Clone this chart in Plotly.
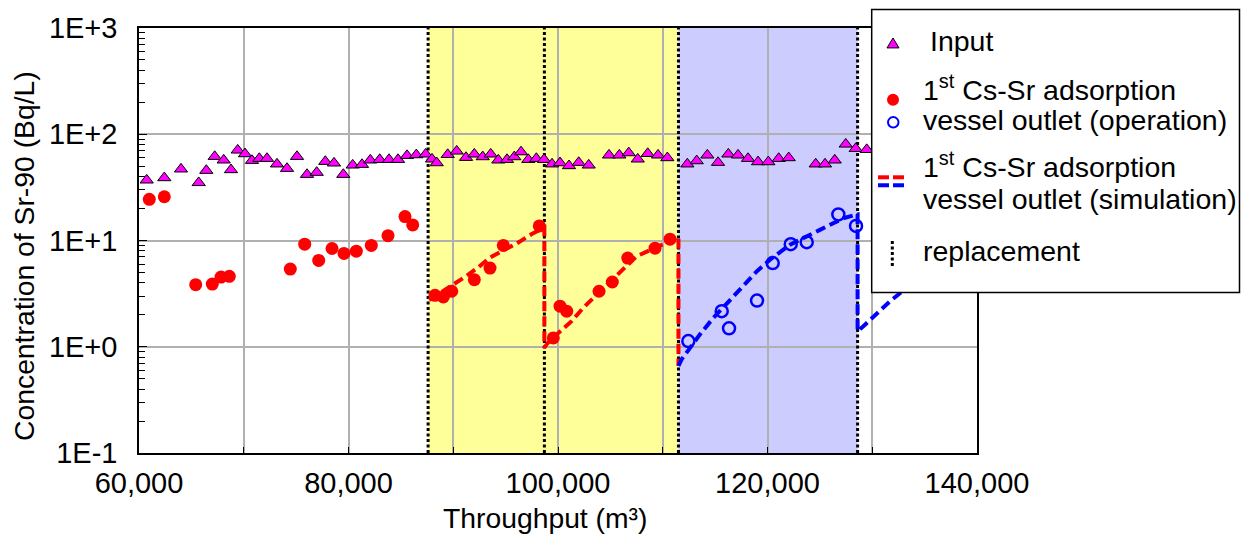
import plotly.graph_objects as go

# ---------------- data ----------------
input_x = [60735, 62415, 64010, 65700, 66425, 67227, 68086, 68783, 69423, 70120,
           70788, 71485, 72220, 73175, 74130, 75084, 76039, 76965, 77786, 78617,
           79504, 80402, 81290, 82082, 82980, 83868, 84727, 85586, 86474, 87371,
           87973, 88421, 89471, 90331, 91219, 92011, 92813, 93577, 94303, 95133,
           95830, 96470, 97167, 97931, 98666, 99430, 100193, 101053, 101979, 102934,
           104872, 105855, 106753, 107612, 108567, 109550, 110438,
           112346, 113244, 114256, 115277, 116261, 117187, 118141, 119096, 120079,
           121072, 122027, 124604, 125492, 126418, 127468, 128423, 129473]
input_y = [37.0, 38.9, 47.0, 35.0, 45.6, 61.7, 57.1, 46.3, 70.8, 65.4,
           56.6, 59.1, 59.1, 52.4, 47.6, 61.7, 41.8, 43.7, 55.4, 53.5,
           41.8, 51.2, 51.9, 57.1, 57.8, 57.8, 57.8, 63.0, 64.0, 65.0,
           58.3, 53.8, 64.4, 69.3, 60.4, 65.0, 61.3, 65.0, 57.1, 57.8,
           61.3, 68.2, 57.8, 59.1, 57.8, 52.4, 53.8, 50.5, 54.2, 51.2,
           63.6, 63.6, 66.8, 58.3, 65.8, 63.6, 60.0,
           52.4, 56.2, 63.6, 54.2, 65.0, 63.6, 59.1, 55.0, 55.0,
           59.1, 60.0, 52.4, 52.4, 57.1, 80.6, 73.3, 71.7]

op_red_x = [60983, 62415, 65413, 66998, 67829, 68621, 74444, 75820, 77156, 78426,
            79571, 80746, 82178, 83772, 85395, 86130,
            88259, 89051, 89853, 92011, 93510, 94780, 98216, 99553, 100193, 100832,
            103916, 105186, 106656, 109262, 110694]
op_red_y = [24.4, 25.8, 3.84, 3.89, 4.53, 4.60, 5.38, 9.23, 6.50, 8.41,
            7.55, 7.94, 8.98, 11.1, 16.8, 14.0,
            3.05, 2.94, 3.33, 4.28, 5.50, 8.98, 13.7, 1.21, 2.41, 2.16,
            3.33, 4.07, 6.83, 8.47, 10.3]

op_blue_x = [112441, 115630, 116327, 119000, 120498, 122218, 123745, 126762, 128452]
op_blue_y = [1.13, 2.16, 1.49, 2.72, 6.13, 9.23, 9.64, 17.6, 13.7]

sim_red_x = [87700, 89000, 90000, 91200, 92400, 93500, 94800, 96000, 97500, 98500, 98700,
             98700, 99000, 99900, 101300, 102400, 103400, 105600, 107500, 109900, 111300, 111500,
             111500]
sim_red_y = [2.75, 3.3, 3.8, 4.6, 5.6, 6.9, 8.1, 9.3, 11.5, 13.1, 13.2,
             0.98, 1.08, 1.31, 1.74, 2.32, 2.88, 4.6, 7.1, 9.1, 10.8, 10.9,
             0.66]

sim_blue_x = [111500, 111800, 113560, 114830, 117060, 118970, 120240, 122150, 125000,
              127240, 128360, 128600, 128600, 129150, 131700, 133000]
sim_blue_y = [0.66, 0.76, 1.31, 1.87, 3.21, 5.12, 6.59, 9.12, 12.6,
              16.2, 17.4, 17.6, 1.40, 1.56, 2.68, 3.4]

replacement_x = [87600, 98700, 111500, 128600]
yellow_span = [87600, 111500]
blue_span = [111500, 128600]

x_tick_vals = [60000, 80000, 100000, 120000, 140000]
x_tick_text = ["60,000", "80,000", "100,000", "120,000", "140,000"]
y_tick_vals = [0.1, 1, 10, 100, 1000]
y_tick_text = ["1E-1", "1E+0", "1E+1", "1E+2", "1E+3"]

x_title = "Throughput (m³)"
y_title = "Concentration of Sr-90 (Bq/L)"

# ---------------- layout constants ----------------
FIG_W, FIG_H = 1241, 543
L, R, T, B = 139, 264, 26, 90
PW, PH = FIG_W - L - R, FIG_H - T - B
FONT = "Liberation Sans, Arial, sans-serif"
FS = 29
FS_LEG = 28.5
FS_TITLE = 28.3
GRID = "#B0B0B0"


def pxp(x):
    return (x - L) / PW


def pyp(y):
    return (FIG_H - B - y) / PH


fig = go.Figure()

# replacement dotted lines (drawn under the curves)
for rx in replacement_x:
    fig.add_trace(go.Scatter(x=[rx, rx], y=[0.1, 1000], mode="lines",
                             line=dict(color="black", width=3, dash="3px,2.5px"),
                             showlegend=False, hoverinfo="skip"))

fig.add_trace(go.Scatter(x=input_x, y=input_y, mode="markers", name="Input",
                         marker=dict(symbol="triangle-up", size=11.5, color="#FF00FF",
                                     line=dict(color="black", width=1))))
fig.add_trace(go.Scatter(x=op_red_x, y=op_red_y, mode="markers",
                         marker=dict(symbol="circle", size=13, color="#FF0000",
                                     line=dict(width=0))))
fig.add_trace(go.Scatter(x=op_blue_x, y=op_blue_y, mode="markers",
                         marker=dict(symbol="circle-open", size=12, color="#0000FF",
                                     line=dict(width=2.5, color="#0000FF"))))
fig.add_trace(go.Scatter(x=sim_red_x, y=sim_red_y, mode="lines",
                         line=dict(color="#FF0000", width=4, dash="10px,5px")))
fig.add_trace(go.Scatter(x=sim_blue_x, y=sim_blue_y, mode="lines",
                         line=dict(color="#0000FF", width=4, dash="10px,5px")))

shapes = [
    dict(type="rect", xref="x", yref="paper", x0=yellow_span[0], x1=yellow_span[1],
         y0=0, y1=1, fillcolor="#FFFF99", line=dict(width=0), layer="below"),
    dict(type="rect", xref="x", yref="paper", x0=blue_span[0], x1=blue_span[1],
         y0=0, y1=1, fillcolor="#CCCCFF", line=dict(width=0), layer="below"),
]

# ---------------- custom legend ----------------
shapes.append(dict(type="rect", xref="paper", yref="paper",
                   x0=pxp(871.7), x1=pxp(1239.5), y0=pyp(291.7), y1=pyp(7.3),
                   fillcolor="white", line=dict(color="black", width=1.5), layer="above"))
tri = "M {:.5f},{:.5f} L {:.5f},{:.5f} L {:.5f},{:.5f} Z".format(
    pxp(887), pyp(46), pxp(899), pyp(46), pxp(893), pyp(36))
shapes.append(dict(type="path", xref="paper", yref="paper", path=tri,
                   fillcolor="#FF00FF", line=dict(color="black", width=1), layer="above"))
shapes.append(dict(type="circle", xref="paper", yref="paper",
                   x0=pxp(887), x1=pxp(899), y0=pyp(104), y1=pyp(92),
                   fillcolor="#FF0000", line=dict(width=0), layer="above"))
shapes.append(dict(type="circle", xref="paper", yref="paper",
                   x0=pxp(888), x1=pxp(898.5), y0=pyp(126), y1=pyp(115.5),
                   fillcolor="rgba(0,0,0,0)", line=dict(color="#0000FF", width=2), layer="above"))
for (xa, xb) in [(878, 889), (893, 904)]:
    shapes.append(dict(type="line", xref="paper", yref="paper",
                       x0=pxp(xa), x1=pxp(xb), y0=pyp(176), y1=pyp(176),
                       line=dict(color="#FF0000", width=4), layer="above"))
    shapes.append(dict(type="line", xref="paper", yref="paper",
                       x0=pxp(xa), x1=pxp(xb), y0=pyp(184), y1=pyp(184),
                       line=dict(color="#0000FF", width=4), layer="above"))
shapes.append(dict(type="line", xref="paper", yref="paper",
                   x0=pxp(892.3), x1=pxp(892.3), y0=pyp(265), y1=pyp(238),
                   line=dict(color="black", width=3, dash="3px,2.5px"), layer="above"))

legend_lines = [
    (928, 39.5, "Input"),
    (921, 86, "1<sup>st</sup> Cs-Sr adsorption"),
    (921, 118, "vessel outlet (operation)"),
    (921, 164, "1<sup>st</sup> Cs-Sr adsorption"),
    (921, 198, "vessel outlet (simulation)"),
    (921, 250, "replacement"),
]
annotations = []
for (lx, ly, txt) in legend_lines:
    annotations.append(dict(xref="paper", yref="paper", x=pxp(lx), y=pyp(ly), text=txt,
                            xanchor="left", yanchor="middle", showarrow=False,
                            font=dict(family=FONT, size=FS_LEG, color="black")))

# axis titles as annotations (placed like the reference)
annotations.append(dict(xref="paper", yref="paper", x=pxp(545), y=pyp(518), text=x_title,
                        xanchor="center", yanchor="middle", showarrow=False,
                        font=dict(family=FONT, size=FS_TITLE, color="black")))
annotations.append(dict(xref="paper", yref="paper", x=pxp(24), y=pyp(255), text=y_title,
                        textangle=-90, xanchor="center", yanchor="middle", showarrow=False,
                        font=dict(family=FONT, size=FS_TITLE, color="black")))

fig.update_layout(
    width=FIG_W, height=FIG_H, autosize=False,
    margin=dict(l=L, r=R, t=T, b=B, pad=0),
    paper_bgcolor="white", plot_bgcolor="white",
    showlegend=False,
    font=dict(family=FONT, size=FS, color="black"),
    shapes=shapes, annotations=annotations,
)

fig.update_xaxes(
    range=[60000, 140000], tickmode="array", tickvals=x_tick_vals, ticktext=x_tick_text,
    ticks="inside", ticklen=6, tickcolor="black", tickwidth=1,
    showgrid=True, gridcolor=GRID, gridwidth=1.5, zeroline=False,
    minor=dict(dtick=10000, tick0=60000, ticks="inside", ticklen=6, tickcolor="black",
               showgrid=True, gridcolor=GRID, gridwidth=1.5),
    showline=True, mirror=True, linecolor="black", linewidth=1.5,
    tickfont=dict(family=FONT, size=FS, color="black"),
    ticklabelstandoff=3,
)
fig.update_yaxes(
    type="log", range=[-1, 3], tickmode="array", tickvals=y_tick_vals, ticktext=y_tick_text,
    ticks="inside", ticklen=8, tickcolor="black", tickwidth=1,
    showgrid=True, gridcolor=GRID, gridwidth=1.5, zeroline=False,
    minor=dict(dtick="D1", ticks="inside", ticklen=6, tickcolor="black", showgrid=False),
    showline=True, mirror=True, linecolor="black", linewidth=1.5,
    tickfont=dict(family=FONT, size=FS, color="black"),
    ticklabelstandoff=14,
)

fig.write_html("out.html", config={"displayModeBar": False},
               post_script="document.body.style.margin='0px';")
